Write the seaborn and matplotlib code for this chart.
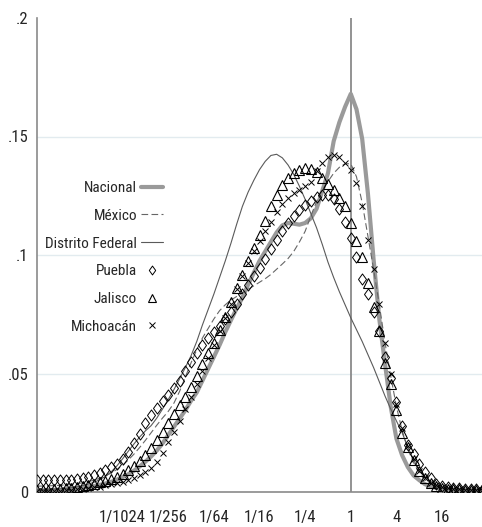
import numpy as np
import pandas as pd
import matplotlib
matplotlib.use("Agg")
import matplotlib.pyplot as plt
from matplotlib import font_manager
from matplotlib.path import Path
import seaborn as sns

# evaluation grid (log2 of ratio)
log2_x = [-13.75, -13.5, -13.25, -13.0, -12.75, -12.5, -12.25, -12.0,
          -11.75, -11.5, -11.25, -11.0, -10.75, -10.5, -10.25, -10.0,
          -9.75, -9.5, -9.25, -9.0, -8.75, -8.5, -8.25, -8.0,
          -7.75, -7.5, -7.25, -7.0, -6.75, -6.5, -6.25, -6.0,
          -5.75, -5.5, -5.25, -5.0, -4.75, -4.5, -4.25, -4.0,
          -3.75, -3.5, -3.25, -3.0, -2.75, -2.5, -2.25, -2.0,
          -1.75, -1.5, -1.25, -1.0, -0.75, -0.5, -0.25, 0.0,
          0.25, 0.5, 0.75, 1.0, 1.25, 1.5, 1.75, 2.0,
          2.25, 2.5, 2.75, 3.0, 3.25, 3.5, 3.75, 4.0,
          4.25, 4.5, 4.75, 5.0, 5.25, 5.5, 5.75]

nacional = [0.0007, 0.0007, 0.0008, 0.0009, 0.0010, 0.0011, 0.0013, 0.0015,
            0.0018, 0.0021, 0.0025, 0.0030, 0.0036, 0.0043, 0.0052, 0.0063,
            0.0075, 0.0090, 0.0108, 0.0128, 0.0150, 0.0175, 0.0205, 0.0240,
            0.0275, 0.0310, 0.0345, 0.0385, 0.0420, 0.0470, 0.0520, 0.0570,
            0.0620, 0.0675, 0.0725, 0.0775, 0.0820, 0.0875, 0.0925, 0.0975,
            0.1015, 0.1055, 0.1095, 0.1125, 0.1135, 0.1132, 0.1128, 0.1135,
            0.1155, 0.1195, 0.1270, 0.1345, 0.1480, 0.1560, 0.1625, 0.1680,
            0.1615, 0.1490, 0.1260, 0.0980, 0.0730, 0.0540, 0.0360, 0.0225,
            0.0155, 0.0105, 0.0070, 0.0050, 0.0033, 0.0024, 0.0017, 0.0013,
            0.0012, 0.0011, 0.0010, 0.0010, 0.0010, 0.0010, 0.0010]

mexico = [0.0025, 0.0025, 0.0026, 0.0027, 0.0028, 0.0030, 0.0032, 0.0035,
          0.0039, 0.0044, 0.0050, 0.0058, 0.0068, 0.0080, 0.0095, 0.0113,
          0.0135, 0.0160, 0.0188, 0.0218, 0.0250, 0.0282, 0.0312, 0.0340,
          0.0375, 0.0425, 0.0485, 0.0545, 0.0600, 0.0650, 0.0690, 0.0730,
          0.0765, 0.0790, 0.0810, 0.0825, 0.0840, 0.0855, 0.0870, 0.0885,
          0.0900, 0.0918, 0.0940, 0.0962, 0.0985, 0.1015, 0.1055, 0.1100,
          0.1165, 0.1225, 0.1275, 0.1310, 0.1345, 0.1370, 0.1385, 0.1385,
          0.1330, 0.1220, 0.1080, 0.0940, 0.0790, 0.0630, 0.0490, 0.0360,
          0.0260, 0.0180, 0.0125, 0.0080, 0.0050, 0.0035, 0.0025, 0.0018,
          0.0015, 0.0013, 0.0012, 0.0011, 0.0010, 0.0010, 0.0010]

distrito_federal = [0.0010, 0.0010, 0.0011, 0.0012, 0.0013, 0.0015, 0.0018, 0.0022,
                    0.0027, 0.0033, 0.0041, 0.0052, 0.0066, 0.0085, 0.0110, 0.0140,
                    0.0172, 0.0203, 0.0232, 0.0258, 0.0280, 0.0312, 0.0350, 0.0390,
                    0.0432, 0.0478, 0.0525, 0.0575, 0.0635, 0.0705, 0.0770, 0.0835,
                    0.0905, 0.0975, 0.1050, 0.1130, 0.1205, 0.1265, 0.1315, 0.1360,
                    0.1395, 0.1420, 0.1425, 0.1410, 0.1380, 0.1340, 0.1290, 0.1235,
                    0.1175, 0.1115, 0.1045, 0.0970, 0.0905, 0.0845, 0.0790, 0.0735,
                    0.0685, 0.0635, 0.0580, 0.0525, 0.0465, 0.0405, 0.0350, 0.0300,
                    0.0250, 0.0190, 0.0135, 0.0095, 0.0065, 0.0045, 0.0030, 0.0022,
                    0.0016, 0.0013, 0.0011, 0.0010, 0.0010, 0.0010, 0.0010]

puebla = [0.0052, 0.0052, 0.0051, 0.0050, 0.0050, 0.0050, 0.0051, 0.0053,
          0.0058, 0.0064, 0.0072, 0.0082, 0.0092, 0.0105, 0.0118, 0.0138,
          0.0168, 0.0205, 0.0245, 0.0290, 0.0327, 0.0355, 0.0382, 0.0410,
          0.0438, 0.0470, 0.0510, 0.0550, 0.0585, 0.0620, 0.0650, 0.0675,
          0.0700, 0.0728, 0.0760, 0.0795, 0.0835, 0.0875, 0.0910, 0.0945,
          0.0985, 0.1025, 0.1065, 0.1100, 0.1135, 0.1165, 0.1190, 0.1210,
          0.1228, 0.1245, 0.1255, 0.1252, 0.1235, 0.1195, 0.1140, 0.1070,
          0.0990, 0.0900, 0.0835, 0.0760, 0.0680, 0.0570, 0.0480, 0.0380,
          0.0280, 0.0200, 0.0160, 0.0120, 0.0085, 0.0060, 0.0035, 0.0025,
          0.0020, 0.0017, 0.0015, 0.0013, 0.0012, 0.0011, 0.0010]

jalisco = [0.0008, 0.0009, 0.0010, 0.0011, 0.0013, 0.0015, 0.0018, 0.0021,
           0.0025, 0.0030, 0.0035, 0.0041, 0.0048, 0.0055, 0.0065, 0.0078,
           0.0093, 0.0110, 0.0132, 0.0155, 0.0185, 0.0220, 0.0255, 0.0290,
           0.0330, 0.0365, 0.0400, 0.0445, 0.0490, 0.0540, 0.0585, 0.0630,
           0.0685, 0.0740, 0.0800, 0.0860, 0.0915, 0.0975, 0.1030, 0.1085,
           0.1145, 0.1205, 0.1255, 0.1295, 0.1325, 0.1345, 0.1360, 0.1365,
           0.1362, 0.1350, 0.1325, 0.1300, 0.1275, 0.1240, 0.1205, 0.1135,
           0.1060, 0.0990, 0.0880, 0.0780, 0.0680, 0.0545, 0.0455, 0.0345,
           0.0250, 0.0190, 0.0135, 0.0090, 0.0060, 0.0038, 0.0025, 0.0018,
           0.0014, 0.0012, 0.0011, 0.0010, 0.0010, 0.0010, 0.0010]

michoacan = [0.0003, 0.0003, 0.0004, 0.0005, 0.0006, 0.0007, 0.0009, 0.0011,
             0.0013, 0.0016, 0.0019, 0.0023, 0.0028, 0.0033, 0.0038, 0.0044,
             0.0052, 0.0060, 0.0070, 0.0083, 0.0100, 0.0125, 0.0165, 0.0210,
             0.0255, 0.0300, 0.0350, 0.0400, 0.0455, 0.0510, 0.0565, 0.0620,
             0.0680, 0.0735, 0.0795, 0.0855, 0.0910, 0.0965, 0.1015, 0.1060,
             0.1100, 0.1140, 0.1180, 0.1215, 0.1240, 0.1260, 0.1275, 0.1290,
             0.1310, 0.1355, 0.1390, 0.1415, 0.1420, 0.1415, 0.1390, 0.1360,
             0.1305, 0.1205, 0.1065, 0.0940, 0.0795, 0.0630, 0.0500, 0.0370,
             0.0270, 0.0195, 0.0140, 0.0090, 0.0060, 0.0040, 0.0028, 0.0020,
             0.0016, 0.0013, 0.0011, 0.0010, 0.0009, 0.0009, 0.0008]

tick_log2 = [-10, -8, -6, -4, -2, 0, 2, 4]
tick_labels = ["1/1024", "1/256", "1/64", "1/16", "1/4", "1", "4", "16"]
y_ticks = [0, 0.05, 0.1, 0.15, 0.2]
y_tick_labels = ["0", ".05", ".1", ".15", ".2"]

sns.set_style("white")

# pick a condensed sans family if one is installed
installed = {f.name for f in font_manager.fontManager.ttflist}
narrow = None
for cand in ["Liberation Sans Narrow", "Arial Narrow", "Roboto Condensed",
             "Open Sans Condensed", "Noto Sans Condensed"]:
    if cand in installed:
        narrow = cand
        break
if narrow:
    plt.rcParams["font.family"] = [narrow, "DejaVu Sans"]
    tick_fs, leg_fs = 12, 11
else:
    plt.rcParams["font.family"] = ["Liberation Sans", "DejaVu Sans"]
    tick_fs, leg_fs = 11, 10

# tall diamond marker like the reference
tall_diamond = Path([(0, 1), (0.72, 0), (0, -1), (-0.72, 0), (0, 1)],
                    [Path.MOVETO, Path.LINETO, Path.LINETO, Path.LINETO, Path.CLOSEPOLY])

x = np.power(2.0, np.array(log2_x))

fig = plt.figure(figsize=(4.82, 5.27), dpi=100)
ax = fig.add_axes([37 / 482, 1 - 492 / 527, 1 - 37 / 482, (492 - 18) / 527])
ax.set_xscale("log", base=2)

for gy in [0.05, 0.1, 0.15]:
    ax.axhline(gy, color="#e2ebef", lw=1.0, zorder=0)
ax.axvline(1.0, color="#8a8a8a", lw=1.3, zorder=1)

sns.lineplot(x=x, y=nacional, ax=ax, color="#9a9a9a", lw=3.0, label="Nacional",
             estimator=None, sort=False, zorder=2)
sns.lineplot(x=x, y=mexico, ax=ax, color="#666666", lw=0.8, label="México",
             estimator=None, sort=False, zorder=3, linestyle=(0, (6, 3)))
sns.lineplot(x=x, y=distrito_federal, ax=ax, color="#5a5a5a", lw=0.8,
             label="Distrito Federal", estimator=None, sort=False, zorder=3)
sns.lineplot(x=x, y=puebla, ax=ax, label="Puebla", estimator=None, sort=False,
             linestyle="none", marker=tall_diamond, markersize=8, markerfacecolor="none",
             markeredgecolor="black", markeredgewidth=0.7, color="black", zorder=4)
sns.lineplot(x=x, y=jalisco, ax=ax, label="Jalisco", estimator=None, sort=False,
             linestyle="none", marker="^", markersize=6.5, markerfacecolor="none",
             markeredgecolor="black", markeredgewidth=0.8, color="black", zorder=4)
sns.lineplot(x=x, y=michoacan, ax=ax, label="Michoacán", estimator=None, sort=False,
             linestyle="none", marker="x", markersize=5, markeredgecolor="black",
             markeredgewidth=0.7, color="black", zorder=4)

ax.set_xlim(2.0 ** -13.75, 2.0 ** 5.75)
ax.set_ylim(0, 0.2)
ax.set_xticks([2.0 ** t for t in tick_log2])
ax.set_xticklabels(tick_labels)
ax.xaxis.set_minor_locator(matplotlib.ticker.NullLocator())
ax.set_yticks(y_ticks)
ax.set_yticklabels(y_tick_labels)
ax.tick_params(axis="x", length=7, width=1.0, color="#8a8a8a", pad=6, labelsize=tick_fs)
ax.tick_params(axis="y", length=4, width=1.0, color="#8a8a8a", pad=2, labelsize=tick_fs)
ax.set_xlabel("")
ax.set_ylabel("")
for s in ["top", "right"]:
    ax.spines[s].set_visible(False)
for s in ["left", "bottom"]:
    ax.spines[s].set_color("#8a8a8a")
    ax.spines[s].set_linewidth(1.2)

leg = ax.legend(loc="upper right", bbox_to_anchor=(163 / 482, 1 - 181 / 527),
                bbox_transform=fig.transFigure, frameon=False, markerfirst=False,
                fontsize=leg_fs, handlelength=1.45, handletextpad=0.25,
                labelspacing=0.9, borderpad=0, borderaxespad=0, numpoints=1,
                markerscale=0.8)

fig.savefig("out.png", dpi=100)
